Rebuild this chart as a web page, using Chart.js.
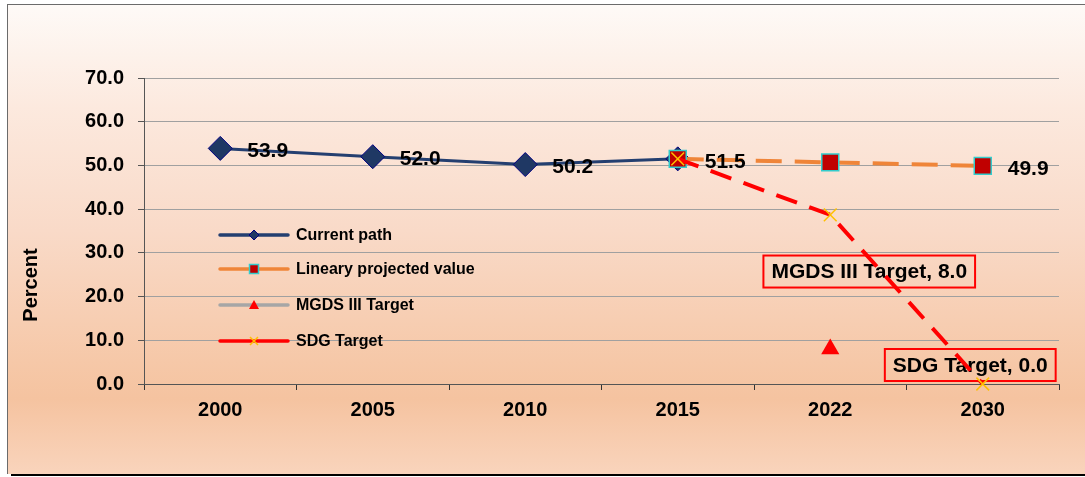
<!DOCTYPE html>
<html><head><meta charset="utf-8">
<script src="https://cdn.jsdelivr.net/npm/chart.js@4.4.1/dist/chart.umd.min.js"></script>
<style>
html,body{margin:0;padding:0;width:1085px;height:477px;overflow:hidden;background:#fff;}
#shadow{position:absolute;left:11px;top:473px;width:1080px;height:3px;background:#000;}
#frame{position:absolute;left:7px;top:4px;width:1090px;height:469px;border-top:1px solid #6b6b6b;border-left:1px solid #6b6b6b;
background:linear-gradient(to bottom,#fefaf7 0%,#fce9de 22%,#f9dac8 48%,#f6c8a8 76%,#f5c3a0 84%,#f9d4bc 100%);}
canvas{position:absolute;left:0;top:0;}
</style></head><body>
<div id="shadow"></div><div id="frame"></div>
<canvas id="c" width="1085" height="477"></canvas>
<script>
const categories = ['2000', '2005', '2010', '2015', '2022', '2030'];
const currentPath = [53.9, 52.0, 50.2, 51.5, null, null];
const linearProjected = [null, null, null, 51.5, 50.7, 49.9];
const mgdsTarget = [null, null, null, null, 8.0, null];
const sdgTarget = [null, null, null, 51.5, 38.7, 0.0];
const seriesNames = ['Current path', 'Lineary projected value', 'MGDS III Target', 'SDG Target'];
const yTickValues = [0, 10, 20, 30, 40, 50, 60, 70];
const yTitle = 'Percent';

const FONT = '"Liberation Sans", Arial, Helvetica, sans-serif';

function marker(ctx, style, x, y, r, fill, stroke, lw) {
  ctx.save();
  ctx.setLineDash([]);
  ctx.beginPath();
  if (style === 'diamond') {
    ctx.moveTo(x, y - r); ctx.lineTo(x + r, y); ctx.lineTo(x, y + r); ctx.lineTo(x - r, y); ctx.closePath();
  } else if (style === 'square') {
    ctx.rect(x - r, y - r, 2 * r, 2 * r);
  } else if (style === 'triangle') {
    ctx.moveTo(x, y - r); ctx.lineTo(x + r, y + r * 0.8); ctx.lineTo(x - r, y + r * 0.8); ctx.closePath();
  } else if (style === 'x') {
    ctx.moveTo(x - r, y - r); ctx.lineTo(x + r, y + r); ctx.moveTo(x + r, y - r); ctx.lineTo(x - r, y + r);
  }
  if (fill && style !== 'x') { ctx.fillStyle = fill; ctx.fill(); }
  if (stroke) { ctx.strokeStyle = stroke; ctx.lineWidth = lw; ctx.stroke(); }
  ctx.restore();
}

const legendPlugin = {
  id: 'customLegend',
  afterDatasetsDraw(chart) {
    const ctx = chart.ctx;
    const rows = [235, 269, 305, 341];
    const samples = [
      {line: '#243f70', m: 'diamond', r: 5, fill: '#1f3864', stroke: '#000080', lw: 1},
      {line: '#ef8539', m: 'square', r: 4.5, fill: '#c00000', stroke: '#33cccc', lw: 1.5},
      {line: '#a6a6a6', m: 'triangle', r: 5, fill: '#ff0000', stroke: null, lw: 0},
      {line: '#ff0000', m: 'x', r: 4, fill: null, stroke: '#ffc000', lw: 1.5}
    ];
    chart.data.datasets.forEach((ds, i) => {
      const y = rows[i], s = samples[i];
      ctx.save();
      ctx.strokeStyle = s.line; ctx.lineWidth = 3.5; ctx.lineCap = 'round';
      ctx.beginPath(); ctx.moveTo(220, y); ctx.lineTo(288, y); ctx.stroke();
      ctx.restore();
      marker(ctx, s.m, 254, y, s.r, s.fill, s.stroke, s.lw);
      ctx.save();
      ctx.font = 'bold 16px ' + FONT; ctx.fillStyle = '#000';
      ctx.textBaseline = 'middle'; ctx.textAlign = 'left';
      ctx.fillText(ds.label, 296, y + 1);
      ctx.restore();
    });
  }
};

const titlePlugin = {
  id: 'yTitle',
  afterDraw(chart) {
    const ctx = chart.ctx;
    ctx.save();
    ctx.translate(31, 285);
    ctx.rotate(-Math.PI / 2);
    ctx.font = 'bold 20px ' + FONT; ctx.fillStyle = '#000';
    ctx.textAlign = 'center'; ctx.textBaseline = 'middle';
    ctx.fillText(yTitle, 0, 0);
    ctx.restore();
  }
};

const boxLabelPlugin = {
  id: 'boxLabels',
  beforeDatasetsDraw(chart, args, opts) {
    const ctx = chart.ctx;
    opts.items.forEach(it => {
      const ds = chart.data.datasets[it.dataset];
      const pt = chart.getDatasetMeta(it.dataset).data[it.index];
      const text = ds.label + ', ' + ds.data[it.index].toFixed(1);
      ctx.save();
      ctx.font = 'bold 21px ' + FONT;
      const w = ctx.measureText(text).width + 2 * 8;
      const h = 32;
      const cx = pt.x + it.dx, cy = pt.y + it.dy;
      ctx.strokeStyle = '#ff0000'; ctx.lineWidth = 2;
      ctx.strokeRect(cx - w / 2, cy - h / 2, w, h);
      ctx.fillStyle = '#000'; ctx.textAlign = 'center'; ctx.textBaseline = 'middle';
      ctx.fillText(text, cx, cy + 1);
      ctx.restore();
    });
  }
};

const valueLabelPlugin = {
  id: 'valueLabels',
  afterDatasetsDraw(chart, args, opts) {
    const ctx = chart.ctx;
    opts.items.forEach(it => {
      const ds = chart.data.datasets[it.dataset];
      const meta = chart.getDatasetMeta(it.dataset);
      it.indices.forEach(i => {
        const pt = meta.data[i];
        ctx.save();
        ctx.font = 'bold 21px ' + FONT; ctx.fillStyle = '#000';
        ctx.textAlign = 'left'; ctx.textBaseline = 'middle';
        ctx.fillText(ds.data[i].toFixed(1), pt.x + it.dx, pt.y + 3);
        ctx.restore();
      });
    });
  }
};

new Chart(document.getElementById('c'), {
  type: 'line',
  data: {
    labels: categories,
    datasets: [
      {
        label: seriesNames[0], data: currentPath, order: 3,
        borderColor: '#243f70', borderWidth: 3,
        pointStyle: 'rectRot', pointRadius: 12, pointBackgroundColor: '#1f3864',
        pointBorderColor: '#000080', pointBorderWidth: 1, tension: 0
      },
      {
        label: seriesNames[1], data: linearProjected, order: 2,
        borderColor: '#ef8539', borderWidth: 4, borderDash: [26, 13],
        pointStyle: 'rect', pointRadius: 12, pointBackgroundColor: '#c00000',
        pointBorderColor: '#33cccc', pointBorderWidth: 1.5, tension: 0
      },
      {
        label: seriesNames[2], data: mgdsTarget, order: 1, showLine: false,
        borderColor: '#a6a6a6', borderWidth: 3,
        pointStyle: 'triangle', pointRadius: 10.5, pointBackgroundColor: '#ff0000',
        pointBorderColor: '#ff0000', pointBorderWidth: 0
      },
      {
        label: seriesNames[3], data: sdgTarget, order: 0, clip: false,
        borderColor: '#ff0000', borderWidth: 4, borderDash: [22, 13],
        pointStyle: 'crossRot', pointRadius: 9, pointBackgroundColor: '#ffc000',
        pointBorderColor: '#ffc000', pointBorderWidth: 1.5, tension: 0
      }
    ]
  },
  options: {
    responsive: false,
    animation: false,
    events: [],
    layout: { padding: { left: 0, top: 78, right: 26, bottom: 0 } },
    plugins: {
      legend: { display: false },
      tooltip: { enabled: false },
      title: { display: false },
      boxLabels: { items: [ {dataset: 2, index: 4, dx: 39, dy: -77.5}, {dataset: 3, index: 5, dx: -12.5, dy: -19} ] },
      valueLabels: { items: [ {dataset: 0, indices: [0, 1, 2, 3], dx: 27}, {dataset: 1, indices: [5], dx: 25} ] }
    },
    scales: {
      x: {
        type: 'category', offset: true,
        afterFit(scale) { scale.height = 93; },
        grid: { offset: true, drawOnChartArea: false, drawTicks: true, tickLength: 6, tickColor: '#333', color: '#333' },
        border: { display: true, color: '#555', width: 1 },
        ticks: { color: '#000', padding: 8, font: { family: FONT, size: 20, weight: 'bold' }, maxRotation: 0 }
      },
      y: {
        min: yTickValues[0], max: yTickValues[yTickValues.length - 1],
        afterFit(scale) { scale.width = 144; },
        afterBuildTicks(scale) { scale.ticks = yTickValues.map(v => ({ value: v })); },
        grid: { color: '#a0a0a0', lineWidth: 1, tickLength: 6, tickColor: '#555' },
        border: { display: true, color: '#555', width: 1 },
        ticks: { color: '#000', padding: 14, font: { family: FONT, size: 20, weight: 'bold' },
          callback: v => Number(v).toFixed(1) }
      }
    }
  },
  plugins: [boxLabelPlugin, valueLabelPlugin, legendPlugin, titlePlugin]
});
</script>
</body></html>
